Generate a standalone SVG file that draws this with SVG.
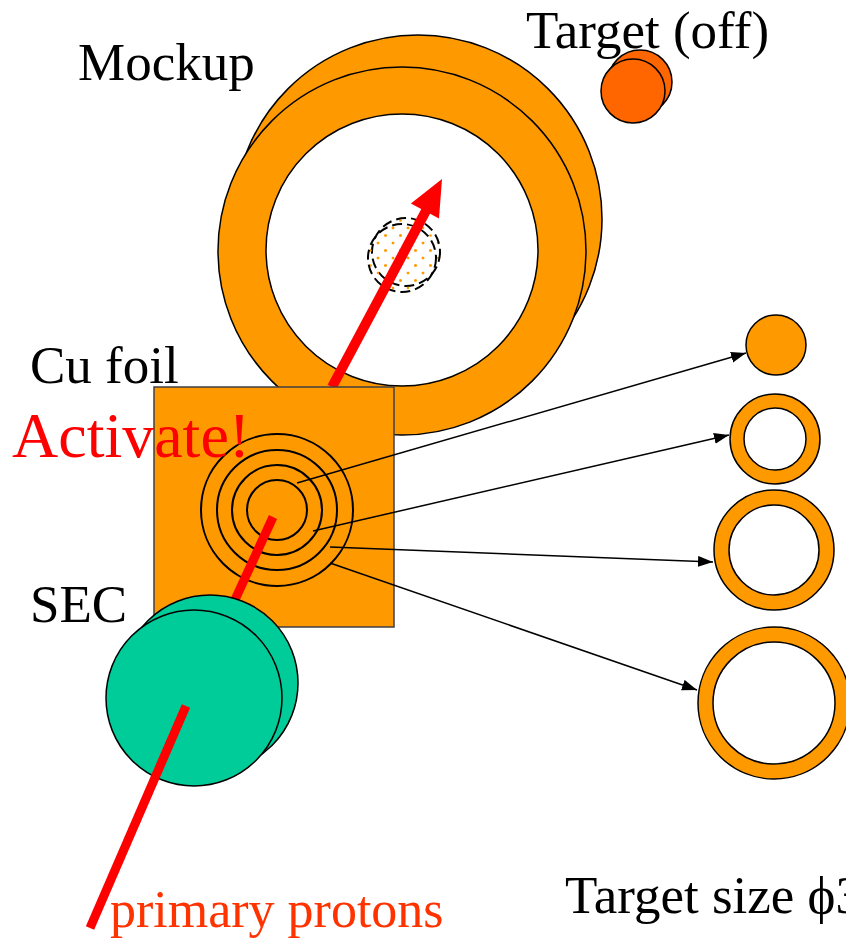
<svg xmlns="http://www.w3.org/2000/svg" width="846" height="938" viewBox="0 0 846 938">
  <style>
    .lbl { font-family: "Liberation Serif", "Times New Roman", serif; font-size: 53px; fill: #000; }
    .orange { fill: #FF9900; stroke: #000; stroke-width: 1.5; }
    .hole { fill: #FFFFFF; stroke: #000; stroke-width: 1.5; }
    .ring { fill: none; stroke: #000; stroke-width: 2; }
    .beam { stroke: #FF0000; stroke-width: 9; stroke-linecap: butt; fill: none; }
    .conn { stroke: #000; stroke-width: 1.5; fill: none; marker-end: url(#head); }
    .spot { fill: url(#dots); stroke: #000; stroke-width: 2; stroke-dasharray: 10,5; }
  </style>
  <defs>
    <marker id="head" markerUnits="userSpaceOnUse" markerWidth="16" markerHeight="12" refX="15" refY="5.5" orient="auto">
      <path d="M0,0 L15,5.5 L0,11 z" fill="#000"/>
    </marker>
    <pattern id="dots" patternUnits="userSpaceOnUse" width="15" height="15">
      <circle cx="3" cy="3" r="1.3" fill="#FF9900"/>
      <circle cx="10.5" cy="10.5" r="1.3" fill="#FF9900"/>
    </pattern>
  </defs>

  <rect width="846" height="938" fill="#FFFFFF"/>

  <!-- Mockup: two stacked rings -->
  <g id="mockup">
    <circle class="orange" cx="418" cy="219" r="184"/>
    <circle class="orange" cx="402" cy="251" r="184"/>
    <circle class="hole" cx="402" cy="250" r="136"/>
  </g>

  <!-- Target (off) -->
  <g id="target">
    <circle cx="640" cy="82" r="32" fill="#FF6600" stroke="#000" stroke-width="1.5"/>
    <circle cx="633" cy="91" r="32" fill="#FF6600" stroke="#000" stroke-width="1.5"/>
  </g>

  <!-- beam spot on the mockup -->
  <g id="spot">
    <circle class="spot" cx="406" cy="252" r="34"/>
    <circle class="spot" cx="402" cy="258" r="34"/>
  </g>

  <!-- transported beam arrow -->
  <g id="beam-out">
    <line x1="332" y1="387" x2="428" y2="207" stroke="#FF0000" stroke-width="10"/>
    <polygon points="442,179 439,218.5 410.9,203.5" fill="#FF0000"/>
  </g>

  <!-- Cu foil -->
  <g id="cu-foil">
    <rect x="154" y="387" width="240" height="240" fill="#FF9900" stroke="#404040" stroke-width="1.5"/>
    <circle class="ring" cx="277" cy="510" r="30"/>
    <circle class="ring" cx="277" cy="510" r="45"/>
    <circle class="ring" cx="277" cy="510" r="60"/>
    <circle class="ring" cx="277" cy="510" r="76"/>
  </g>

  <!-- primary beam, part behind the SEC -->
  <line class="beam" x1="273" y1="517" x2="200" y2="676"/>

  <!-- SEC -->
  <g id="sec">
    <circle cx="210" cy="683" r="88" fill="#00CC99" stroke="#000" stroke-width="1.5"/>
    <circle cx="194" cy="698" r="88" fill="#00CC99" stroke="#000" stroke-width="1.5"/>
  </g>

  <!-- primary beam, part in front of the SEC -->
  <line class="beam" x1="186" y1="706" x2="90" y2="928"/>

  <!-- target size samples -->
  <g id="size-30">
    <circle class="orange" cx="776" cy="345" r="30"/>
  </g>
  <g id="size-45">
    <circle class="orange" cx="775" cy="439" r="45"/>
    <circle class="hole" cx="775" cy="439" r="31"/>
  </g>
  <g id="size-60">
    <circle class="orange" cx="774" cy="550" r="60"/>
    <circle class="hole" cx="774" cy="550" r="45"/>
  </g>
  <g id="size-76">
    <circle class="orange" cx="774" cy="703" r="76"/>
    <circle class="hole" cx="774" cy="703" r="61"/>
  </g>

  <!-- connectors -->
  <g id="connectors">
    <line class="conn" x1="297" y1="483" x2="746" y2="353"/>
    <line class="conn" x1="313" y1="531" x2="729" y2="435"/>
    <line class="conn" x1="330" y1="547" x2="713" y2="562"/>
    <line class="conn" x1="330" y1="563" x2="697" y2="690"/>
  </g>

  <!-- labels -->
  <g id="labels">
    <text class="lbl" x="78" y="80">Mockup</text>
    <text class="lbl" x="526" y="48">Target (off)</text>
    <text class="lbl" x="30" y="383">Cu foil</text>
    <text x="12" y="457" font-family="Liberation Serif, serif" font-size="64" fill="#FF0000">Activate!</text>
    <text class="lbl" x="30" y="622">SEC</text>
    <text x="110" y="927" font-family="Liberation Serif, serif" font-size="52" fill="#FF3300">primary protons</text>
    <text class="lbl" x="565" y="913">Target size ϕ3</text>
  </g>
</svg>
